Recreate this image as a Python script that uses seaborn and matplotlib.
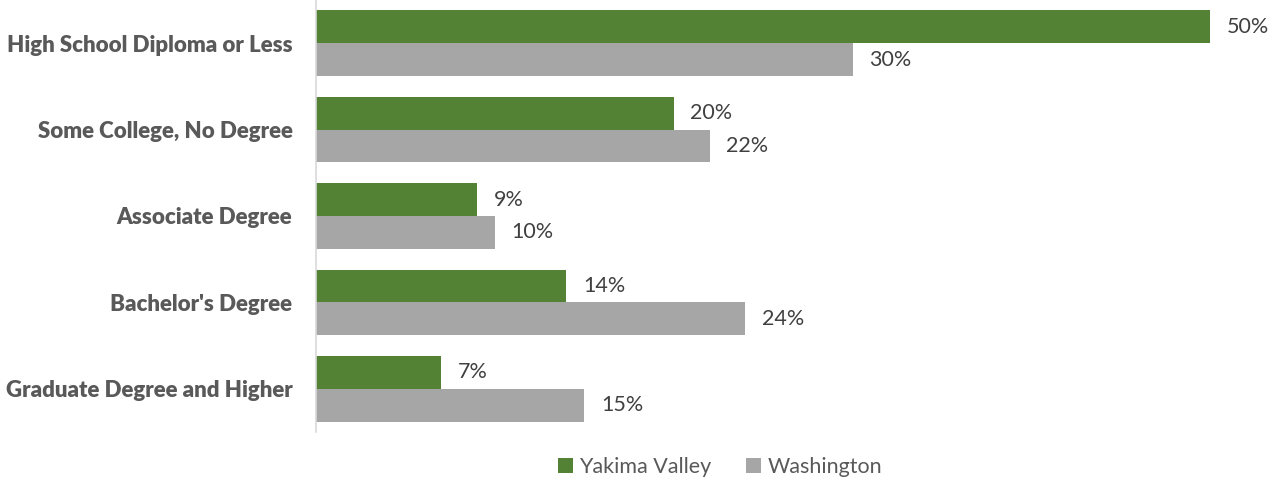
import matplotlib
matplotlib.use("Agg")
import matplotlib.pyplot as plt
import seaborn as sns
import pandas as pd

categories = [
    "High School Diploma or Less",
    "Some College, No Degree",
    "Associate Degree",
    "Bachelor's Degree",
    "Graduate Degree and Higher",
]
series_names = ["Yakima Valley", "Washington"]
yakima_valley = [50, 20, 9, 14, 7]
washington = [30, 22, 10, 24, 15]
colors = ["#548235", "#A6A6A6"]

df = pd.DataFrame({
    "category": categories * 2,
    "region": [series_names[0]] * len(categories) + [series_names[1]] * len(categories),
    "value": yakima_valley + washington,
})

sns.set_theme(style="white")
plt.rcParams["font.family"] = ["Lato", "DejaVu Sans"]

fig = plt.figure(figsize=(12.72, 4.83), dpi=100)
ax = fig.add_axes([316 / 1272, 51 / 483, (1264 - 316) / 1272, 432 / 483])

sns.barplot(
    data=df, y="category", x="value", hue="region", order=categories,
    hue_order=series_names, palette=colors, orient="h", width=0.76,
    linewidth=0, saturation=1, ax=ax, legend=True,
)

ax.set_xlim(0, 53)
ax.set_ylim(len(categories) - 0.5, -0.5)
ax.set_xlabel("")
ax.set_ylabel("")
ax.set_xticks([])
for side in ["top", "right", "bottom"]:
    ax.spines[side].set_visible(False)
ax.spines["left"].set_color("#D9D9D9")
ax.spines["left"].set_linewidth(1.2)
ax.tick_params(axis="y", length=0, pad=17)
for lbl in ax.get_yticklabels():
    lbl.set_fontweight("heavy")
    lbl.set_color("#595959")
    lbl.set_fontsize(16)

for container in ax.containers:
    ax.bar_label(container, labels=[f"{v:.0f}%" for v in container.datavalues],
                 padding=12, fontsize=15.5, color="#404040")

handles, labels = ax.get_legend_handles_labels()
ax.legend(handles, labels, loc="center", ncol=2, frameon=False, fontsize=15.5,
          handlelength=0.7, handleheight=0.7, handletextpad=0.3, columnspacing=1.6,
          labelcolor="#595959")
leg = ax.get_legend()
leg.set_bbox_to_anchor((720 / 1272, 1 - 467 / 483), transform=fig.transFigure)

fig.savefig("out.png", dpi=100)
